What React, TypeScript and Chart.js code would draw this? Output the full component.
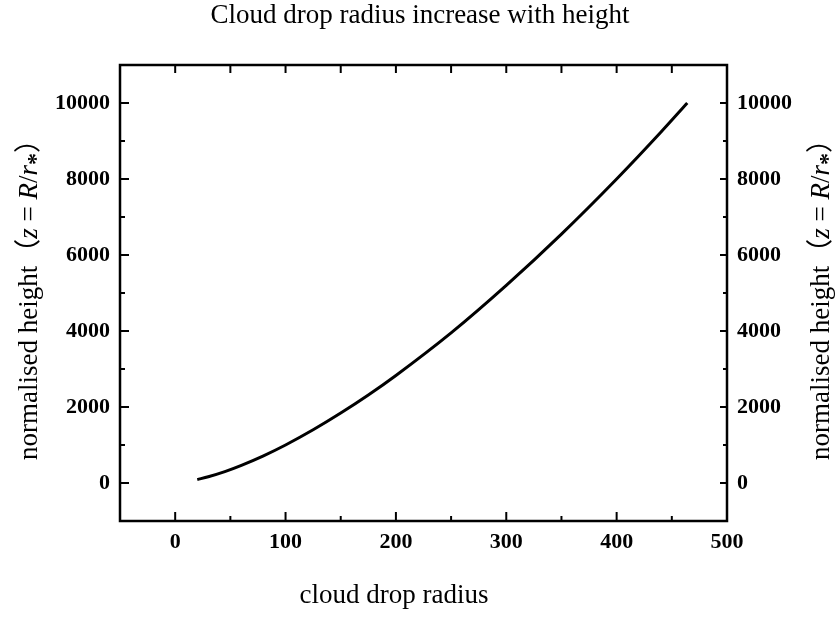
import React, { useEffect, useRef } from 'react';
import { Chart, registerables } from 'chart.js';

Chart.register(...registerables);

// ---- data ----
const radius = [20, 30, 45, 60, 80, 100, 125, 150, 175, 200, 250, 300, 350, 400, 440, 464];
const normHeight = [90, 165, 300, 465, 715, 1000, 1400, 1840, 2315, 2830, 3950, 5200, 6550, 8000, 9230, 10000];

const xRange = [-50, 500];
const yRange = [-1000, 11000];
const xTicks = [0, 100, 200, 300, 400, 500];
const xMinorTicks = [50, 150, 250, 350, 450];
const xTopTicks = [0, 50, 100, 150, 200, 250, 300, 350, 400, 450];
const yTicks = [0, 2000, 4000, 6000, 8000, 10000];
const yMinorTicks = [1000, 3000, 5000, 7000, 9000];

const titleText = 'Cloud drop radius increase with height';
const xTitleText = 'cloud drop radius';
// [text, style]  n = normal, i = italic, p = full-width paren, s = subscript star
const yTitleRuns: [string, string][] = [
  ['normalised height', 'n'],
  ['（', 'p'],
  ['z', 'i'],
  [' = ', 'n'],
  ['R', 'i'],
  ['/', 'n'],
  ['r', 'i'],
  ['*', 's'],
  ['）', 'p'],
];

const SERIF = '"Times New Roman", "Liberation Serif", serif';

function drawRuns(ctx: CanvasRenderingContext2D, bx: number, cy: number) {
  const fonts: Record<string, string> = {
    n: `27px ${SERIF}`,
    i: `italic 27px ${SERIF}`,
    p: `27px "Noto Sans CJK SC", sans-serif`,
    s: `bold 24px ${SERIF}`,
  };
  const offs: Record<string, number> = { s: 6 };
  ctx.save();
  ctx.translate(bx, cy);
  ctx.rotate(-Math.PI / 2);
  ctx.textAlign = 'left';
  ctx.textBaseline = 'alphabetic';
  ctx.fillStyle = '#000';
  let total = 0;
  for (const [t, k] of yTitleRuns) {
    ctx.font = fonts[k];
    total += ctx.measureText(t).width;
  }
  let xx = -total / 2;
  for (const [t, k] of yTitleRuns) {
    ctx.font = fonts[k];
    ctx.fillText(t, xx, offs[k] || 0);
    xx += ctx.measureText(t).width;
  }
  ctx.restore();
}

const decorPlugin = {
  id: 'decor',
  afterDraw(chart: any) {
    const { ctx, chartArea: a, scales } = chart;
    const xs = scales.x;
    const ys = scales.y;
    ctx.save();
    ctx.strokeStyle = '#000';
    ctx.lineCap = 'butt';
    ctx.lineWidth = 2;
    const seg = (x1: number, y1: number, x2: number, y2: number) => {
      ctx.beginPath();
      ctx.moveTo(x1, y1);
      ctx.lineTo(x2, y2);
      ctx.stroke();
    };
    xTicks.forEach((v) => {
      const px = xs.getPixelForValue(v);
      seg(px, a.bottom, px, a.bottom - 9);
    });
    xMinorTicks.forEach((v) => {
      const px = xs.getPixelForValue(v);
      seg(px, a.bottom, px, a.bottom - 5);
    });
    xTopTicks.forEach((v) => {
      const px = xs.getPixelForValue(v);
      seg(px, a.top, px, a.top + 8);
    });
    yTicks.forEach((v) => {
      const py = ys.getPixelForValue(v);
      seg(a.left, py, a.left + 9, py);
      seg(a.right, py, a.right - 7, py);
    });
    yMinorTicks.forEach((v) => {
      const py = ys.getPixelForValue(v);
      seg(a.left, py, a.left + 5, py);
      seg(a.right, py, a.right - 4, py);
    });
    ctx.lineWidth = 2.5;
    ctx.strokeRect(a.left, a.top, a.right - a.left, a.bottom - a.top);

    ctx.fillStyle = '#000';
    ctx.font = `27px ${SERIF}`;
    ctx.textAlign = 'center';
    ctx.textBaseline = 'alphabetic';
    const cx = (a.left + a.right) / 2;
    ctx.fillText(titleText, cx - 3.5, 23);
    ctx.fillText(xTitleText, cx - 29.5, 603);
    const cy = (a.top + a.bottom) / 2;
    drawRuns(ctx, 37, cy);
    drawRuns(ctx, 829, cy);
    ctx.restore();
  },
};

const tickFont = { family: SERIF, size: 22, weight: 'bold' as const };
const plainLabel = (v: any) => String(v);

export default function App() {
  const ref = useRef<HTMLCanvasElement | null>(null);
  useEffect(() => {
    if (!ref.current) return;
    const chart = new Chart(ref.current, {
      type: 'line',
      data: {
        datasets: [
          {
            data: radius.map((r, i) => ({ x: r, y: normHeight[i] })),
            borderColor: '#000',
            borderWidth: 3,
            pointRadius: 0,
            fill: false,
            cubicInterpolationMode: 'monotone',
            yAxisID: 'y',
            xAxisID: 'x',
          },
        ],
      },
      options: {
        animation: false,
        responsive: true,
        maintainAspectRatio: false,
        layout: { padding: { top: 65, left: 0, right: 0, bottom: 0 } },
        plugins: { legend: { display: false }, tooltip: { enabled: false }, title: { display: false } },
        scales: {
          x: {
            type: 'linear',
            position: 'bottom',
            min: xRange[0],
            max: xRange[1],
            grid: { display: false, drawTicks: false },
            border: { display: false },
            ticks: { font: tickFont, color: '#000', padding: 8, maxRotation: 0, autoSkip: false, callback: plainLabel },
            afterBuildTicks: (s: any) => {
              s.ticks = xTicks.map((v) => ({ value: v }));
            },
            afterFit: (s: any) => {
              s.height = 96;
            },
          },
          y: {
            type: 'linear',
            position: 'left',
            min: yRange[0],
            max: yRange[1],
            grid: { display: false, drawTicks: false },
            border: { display: false },
            ticks: { font: tickFont, color: '#000', padding: 10, autoSkip: false, callback: plainLabel },
            afterBuildTicks: (s: any) => {
              s.ticks = yTicks.map((v) => ({ value: v }));
            },
            afterFit: (s: any) => {
              s.width = 120;
            },
          },
          y2: {
            type: 'linear',
            position: 'right',
            min: yRange[0],
            max: yRange[1],
            grid: { display: false, drawTicks: false },
            border: { display: false },
            ticks: { font: tickFont, color: '#000', padding: 10, autoSkip: false, callback: plainLabel },
            afterBuildTicks: (s: any) => {
              s.ticks = yTicks.map((v) => ({ value: v }));
            },
            afterFit: (s: any) => {
              s.width = 111;
            },
          },
        },
      } as any,
      plugins: [decorPlugin],
    });
    return () => chart.destroy();
  }, []);
  return (
    <div style={{ position: 'fixed', left: 0, top: 0, width: 838, height: 617, background: '#fff' }}>
      <canvas ref={ref} />
    </div>
  );
}
